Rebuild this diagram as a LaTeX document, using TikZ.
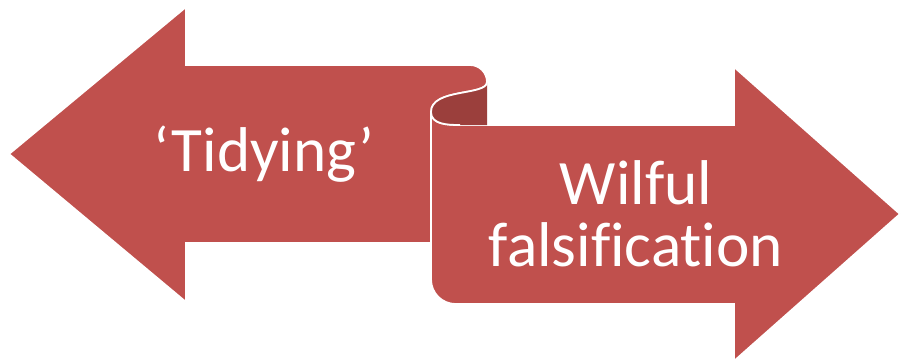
\documentclass[tikz,border=0pt]{standalone}
\usepackage{fontspec}
\setmainfont{Carlito}[Ligatures=NoCommon]
\definecolor{scrollred}{HTML}{C0504D}
\definecolor{scrolldark}{HTML}{9B3F3C}
\begin{document}
\begin{tikzpicture}[x=0.02cm, y=-0.02cm,
  band/.style={fill=scrollred, draw=white, line width=1pt, line join=miter},
  every node/.style={font=\fontsize{36}{35}\selectfont, text=white, align=center}]
  \useasboundingbox (0,0) rectangle (901,362);
  \coordinate (curltop) at (487,82);
  \coordinate (curlleft) at (431,112);
  \coordinate (curlfoot) at (460,125);
  \draw[band] (9,154) -- (186,7) -- (186,65) -- (470,65) to[out=0,in=90] (curltop)
    .. controls (487,96) and (431,88) .. (curlleft) -- (431,243) -- (186,243) -- (186,302) -- cycle;
  \draw[band, rounded corners=14] (curlleft) -- (431,304) [sharp corners] -- (734,304) -- (734,361)
    -- (900,214) -- (734,67) -- (734,125) -- (curlfoot) to[out=180,in=-90] (curlleft);
  \fill[scrolldark] (curltop) .. controls (487,96) and (431,88) .. (curlleft)
    to[out=-90,in=180] (curlfoot) -- (487,125) -- cycle;
  \draw[white, line width=1pt] (curltop) .. controls (487,96) and (431,88) .. (curlleft)
    to[out=-90,in=180] (curlfoot);
  \node (tidy) at (264,154) {‘Tidying’};
  \node (wilful) at (636,214) {Wilful\\falsification};
\end{tikzpicture}
\end{document}
